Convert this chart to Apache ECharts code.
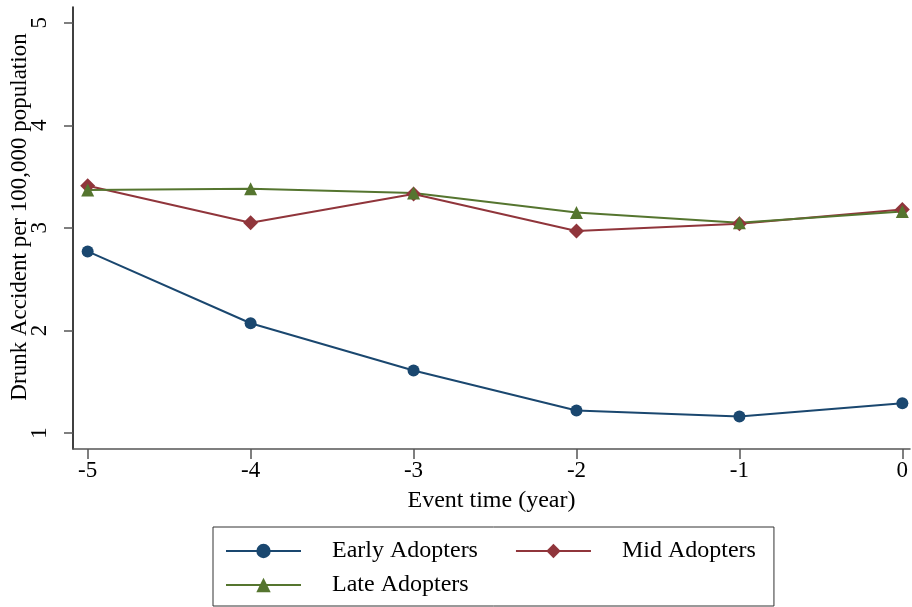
<!DOCTYPE html>
<html>
<head>
<meta charset="utf-8">
<script src="https://cdn.jsdelivr.net/npm/echarts@6/dist/echarts.min.js"></script>
<style>
  html, body { margin: 0; padding: 0; background: #fff; }
  #main { width: 912px; height: 607px; }
</style>
</head>
<body>
<div id="main"></div>
<script>
// event years and per-group accident rates
var years = [-5, -4, -3, -2, -1, 0]
var early = [2.77, 2.07, 1.61, 1.22, 1.16, 1.29]
var mid = [3.41, 3.05, 3.33, 2.97, 3.04, 3.18]
var late = [3.37, 3.38, 3.34, 3.15, 3.05, 3.16]
var xTicks = [-5, -4, -3, -2, -1, 0]
var yTicks = [1, 2, 3, 4, 5]

var font = 'Liberation Serif'
var chart = echarts.init(document.getElementById('main'))

function pairs (vals) {
  return years.map(function (x, i) { return [x, vals[i]] })
}

var option = {
  animation: false,
  backgroundColor: '#fff',
  grid: { left: 73, right: 2, top: 7, bottom: 158, outerBoundsMode: 'none' },
  xAxis: {
    type: 'value',
    min: -5.09,
    max: 0.047,
    name: 'Event time (year)',
    nameLocation: 'middle',
    nameGap: 40,
    nameMoveOverlap: false,
    nameTextStyle: { fontFamily: font, fontSize: 24, color: '#000' },
    axisLine: { onZero: false, lineStyle: { color: '#555', width: 1.5 } },
    axisTick: { customValues: xTicks, length: 10, lineStyle: { color: '#555', width: 1.5 } },
    axisLabel: { customValues: xTicks, fontFamily: font, fontSize: 23, color: '#000', margin: 10 },
    splitLine: { show: false }
  },
  yAxis: {
    type: 'value',
    min: 0.844,
    max: 5.153,
    name: 'Drunk Accident per 100,000 population',
    nameLocation: 'middle',
    nameRotate: 90,
    nameGap: 42,
    nameMoveOverlap: false,
    nameTextStyle: { fontFamily: font, fontSize: 23, color: '#000', padding: [0, 0, 0, 22] },
    axisLine: { show: true, onZero: false, lineStyle: { color: '#000', width: 1.5 } },
    axisTick: { show: true, customValues: yTicks, length: 9, lineStyle: { color: '#555', width: 1.5 } },
    axisLabel: { customValues: yTicks, rotate: 90, fontFamily: font, fontSize: 23, color: '#000', margin: 22 },
    splitLine: { show: false }
  },
  legend: {
    left: 213,
    top: 527,
    width: 540,
    itemWidth: 75,
    itemHeight: 18,
    itemGap: 10,
    padding: [12, 18, 9, 12],
    borderColor: '#333',
    borderWidth: 1,
    textStyle: { fontFamily: font, fontSize: 24, color: '#000', padding: [0, 0, 0, 26] },
    data: [
      { name: 'Early Adopters', textStyle: { padding: [0, 27, 0, 26], backgroundColor: 'rgba(255,255,255,0)' } },
      { name: 'Mid Adopters' },
      { name: 'Late Adopters' }
    ]
  },
  series: [
    {
      name: 'Early Adopters',
      type: 'line',
      data: pairs(early),
      symbol: 'circle',
      symbolSize: 12,
      color: '#1a476f',
      lineStyle: { width: 2 }
    },
    {
      name: 'Mid Adopters',
      type: 'line',
      data: pairs(mid),
      symbol: 'diamond',
      symbolSize: 15,
      color: '#90353b',
      lineStyle: { width: 2 }
    },
    {
      name: 'Late Adopters',
      type: 'line',
      data: pairs(late),
      symbol: 'triangle',
      symbolSize: 13,
      color: '#55752f',
      lineStyle: { width: 2 }
    }
  ]
}

chart.setOption(option)
window.addEventListener('resize', function () { chart.resize() })
</script>
</body>
</html>
